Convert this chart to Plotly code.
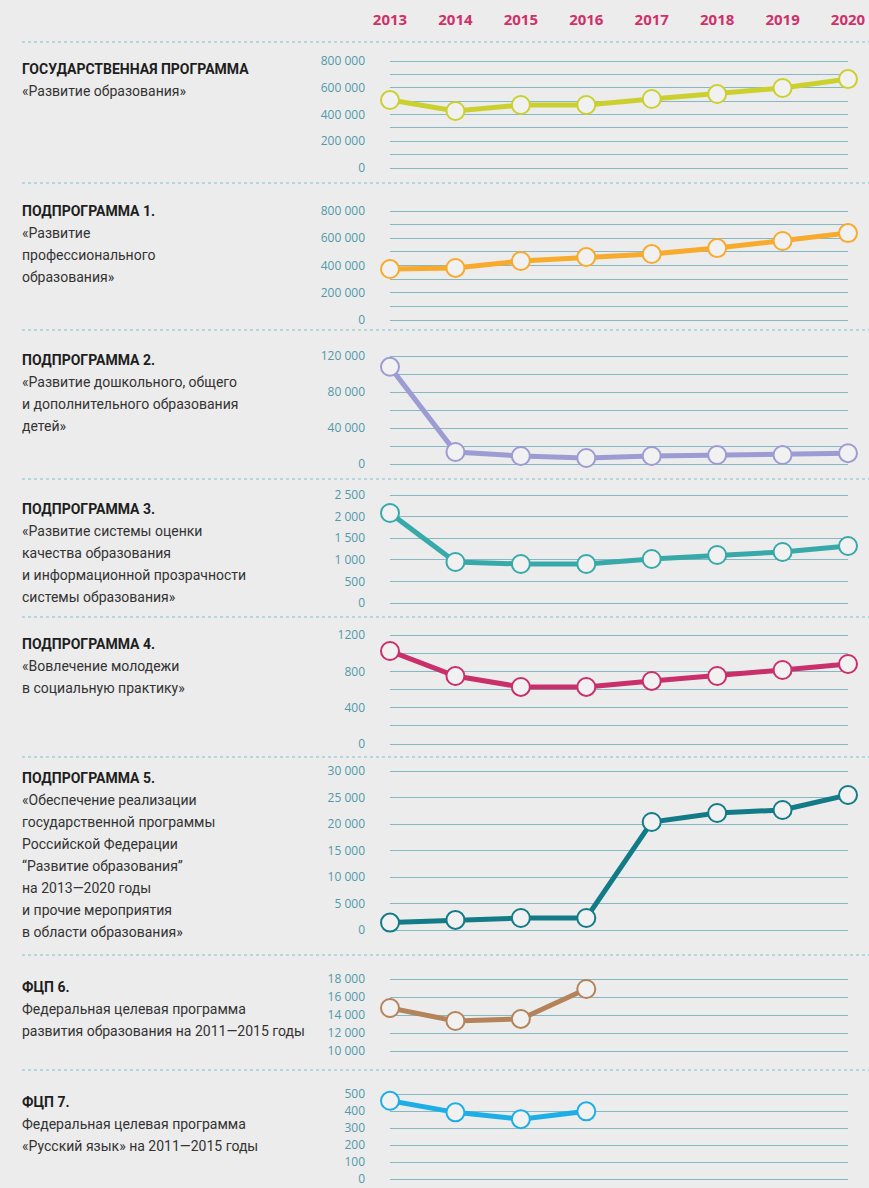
import plotly.graph_objects as go

# ---- data -------------------------------------------------------------
years = [2013, 2014, 2015, 2016, 2017, 2018, 2019, 2020]
years_fcp = [2013, 2014, 2015, 2016]

gos_programma = [508000, 426000, 471000, 471000, 516000, 553000, 598000, 665000]
podprogramma_1 = [374000, 382000, 433000, 462000, 484000, 528000, 580000, 638000]
podprogramma_2 = [108000, 13300, 8900, 6700, 8900, 10000, 10000, 12000]
podprogramma_3 = [2083, 949, 903, 903, 1019, 1111, 1181, 1320]
podprogramma_4 = [1024, 749, 628, 628, 694, 749, 815, 881]
podprogramma_5 = [1400, 1900, 2260, 2260, 20380, 22080, 22640, 25470]
fcp_6 = [14780, 13330, 13560, 16890]
fcp_7 = [460, 392, 352, 398]

titles = [
    "ГОСУДАРСТВЕННАЯ ПРОГРАММА",
    "ПОДПРОГРАММА 1.",
    "ПОДПРОГРАММА 2.",
    "ПОДПРОГРАММА 3.",
    "ПОДПРОГРАММА 4.",
    "ПОДПРОГРАММА 5.",
    "ФЦП 6.",
    "ФЦП 7.",
]
descriptions = [
    ["«Развитие образования»"],
    ["«Развитие", "профессионального", "образования»"],
    ["«Развитие дошкольного, общего", "и дополнительного образования", "детей»"],
    ["«Развитие системы оценки", "качества образования",
     "и информационной прозрачности", "системы образования»"],
    ["«Вовлечение молодежи", "в социальную практику»"],
    ["«Обеспечение реализации", "государственной программы", "Российской Федерации",
     "“Развитие образования”", "на 2013—2020 годы", "и прочие мероприятия",
     "в области образования»"],
    ["Федеральная целевая программа", "развития образования на 2011—2015 годы"],
    ["Федеральная целевая программа", "«Русский язык» на 2011—2015 годы"],
]

# ---- styling / layout geometry (pixels) --------------------------------
W, H = 869, 1188
X0, X1 = 390, 848
BG = "#ececec"
GRID = "#86b8c4"
TICK = "#4f9aab"
TEXT_FONT = "Roboto, Liberation Sans, sans-serif"
PAD = 3  # px of slack so the first/last grid lines are not clipped

series = [
    dict(x=years, y=gos_programma, color="#cbd02f"),
    dict(x=years, y=podprogramma_1, color="#f7aa2b"),
    dict(x=years, y=podprogramma_2, color="#9d9bd3"),
    dict(x=years, y=podprogramma_3, color="#37a9a9"),
    dict(x=years, y=podprogramma_4, color="#c9306b"),
    dict(x=years, y=podprogramma_5, color="#127b87"),
    dict(x=years_fcp, y=fcp_6, color="#b5835a"),
    dict(x=years_fcp, y=fcp_7, color="#1daee6"),
]

# (top px, bottom px, range, major dtick, minor dtick, tickformat)
axes_spec = [
    (61, 168, [0, 800000], 200000, 100000, ",d"),
    (211, 320, [0, 800000], 200000, 100000, ",d"),
    (356, 464, [0, 120000], 40000, 20000, ",d"),
    (495, 603, [0, 2500], 500, None, ",d"),
    (635, 744, [0, 1200], 400, 200, "d"),
    (771, 930, [0, 30000], 5000, None, ",d"),
    (979, 1051, [10000, 18000], 2000, None, ",d"),
    (1094, 1179, [0, 500], 100, None, ",d"),
]

title_y = [69, 211, 360, 509, 644, 778, 987, 1102]
separators_y = [42, 183, 330, 479, 617, 757, 955, 1070]
LINE_STEP = 22


def py(p):
    return 1 - p / H


fig = go.Figure()
layout = dict(
    width=W, height=H,
    margin=dict(l=0, r=0, t=0, b=0, autoexpand=False),
    paper_bgcolor=BG, plot_bgcolor=BG,
    showlegend=False,
    separators=", ",
    xaxis=dict(
        domain=[X0 / W, X1 / W], range=[2013, 2020],
        side="top", anchor="free", position=py(28),
        tickvals=years, ticktext=[str(y) for y in years],
        tickfont=dict(family="Open Sans", size=15, color="#d0306a", weight="bold"),
        showgrid=False, zeroline=False, showline=False, ticks="",
        automargin=False, ticklabeloverflow="allow",
    ),
)

for i, (s, spec) in enumerate(zip(series, axes_spec)):
    top, bottom, rng, dt, mdt, fmt = spec
    per_px = (rng[1] - rng[0]) / (bottom - top)
    yname = "yaxis" if i == 0 else f"yaxis{i + 1}"
    yref = "y" if i == 0 else f"y{i + 1}"
    ax = dict(
        domain=[py(bottom + PAD), py(top - PAD)],
        range=[rng[0] - PAD * per_px, rng[1] + PAD * per_px], anchor="x",
        dtick=dt, tick0=rng[0], tickformat=fmt,
        showgrid=True, gridcolor=GRID, gridwidth=1.3,
        zeroline=False, showline=False, ticks="",
        ticklabelstandoff=24, automargin=False, ticklabeloverflow="allow",
        tickfont=dict(family="Open Sans", size=12, color=TICK),
        fixedrange=True,
    )
    if mdt:
        ax["minor"] = dict(dtick=mdt, tick0=rng[0], showgrid=True,
                           gridcolor=GRID, gridwidth=1.3)
    layout[yname] = ax
    fig.add_trace(go.Scatter(
        x=s["x"], y=s["y"], xaxis="x", yaxis=yref,
        mode="lines+markers", cliponaxis=False,
        line=dict(color=s["color"], width=5),
        marker=dict(size=18, color="#f1f1f1", line=dict(color=s["color"], width=2)),
        hoverinfo="skip",
    ))

shapes = []
for yy in separators_y:
    shapes.append(dict(
        type="line", xref="paper", yref="paper",
        x0=22 / W, x1=1, y0=py(yy), y1=py(yy),
        line=dict(color="#7cc0cc", width=1.2, dash="dot"),
    ))

annotations = []
for t, lines, ty in zip(titles, descriptions, title_y):
    annotations.append(dict(
        text=t, xref="paper", yref="paper", x=20 / W, y=py(ty),
        xanchor="left", yanchor="middle", showarrow=False,
        font=dict(family=TEXT_FONT, size=14, color="#1e1e1e", weight="bold"),
    ))
    for k, line in enumerate(lines):
        annotations.append(dict(
            text=line, xref="paper", yref="paper", x=20 / W,
            y=py(ty + LINE_STEP * (k + 1)),
            xanchor="left", yanchor="middle", showarrow=False,
            font=dict(family=TEXT_FONT, size=14, color="#333333"),
        ))

layout["shapes"] = shapes
layout["annotations"] = annotations
fig.update_layout(**layout)

fig.write_html("out.html")
